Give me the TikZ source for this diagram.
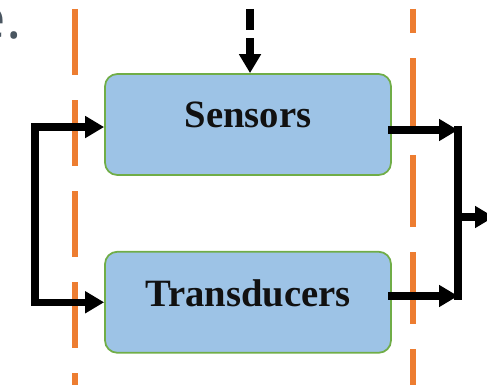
\documentclass[tikz,border=0pt]{standalone}
\usepackage{fontspec}
\setmainfont{Liberation Serif}
\newfontfamily\notefont{Open Sans}
\usepackage{xcolor}
\usetikzlibrary{arrows.meta,positioning,calc}
\definecolor{boxblue}{HTML}{9DC3E6}
\definecolor{boxgreen}{HTML}{70AD47}
\definecolor{edgeorange}{HTML}{ED7D31}
\definecolor{notegray}{HTML}{4A5661}
\definecolor{inkblack}{HTML}{111111}
\tikzset{
  blockbox/.style={
    draw=boxgreen,
    fill=boxblue,
    line width=1pt,
    rounded corners=7pt,
    align=center,
    minimum width=5.72cm,
    minimum height=2.02cm,
    text depth=0.38cm,
    text=inkblack,
    font=\fontsize{22}{26}\selectfont\bfseries
  },
  flowarrow/.style={-{Triangle[length=3.8mm,width=4.2mm]}, line width=4.2pt, line cap=rect, draw=black},
  flowline/.style={line width=4.2pt, line cap=rect, draw=black},
  boundary/.style={draw=edgeorange, line width=3.4pt}
}

\begin{document}
\begin{tikzpicture}
\useasboundingbox (0,0) rectangle (9.74,-7.68);
% system boundaries
\draw[boundary, dash pattern=on 1.32cm off 0.5cm] (1.50,-0.18) -- (1.50,-7.9);
\draw[boundary, dash pattern=on 1.44cm off 0.5cm, dash phase=0.96cm] (8.26,-0.18) -- (8.26,-7.9);

\node[font=\notefont\fontsize{33}{36}\selectfont, text=notegray, anchor=base east, inner sep=0pt] (note) at (0.44,-0.76) {e.};

\node[blockbox] (sensors) at (4.96,-2.49) {Sensors};
\node[blockbox, below=15mm of sensors] (transducers) {Transducers};

\coordinate (ctrl) at (5.0,-0.18);
\coordinate (inbus) at (0.70,-2.54);
\coordinate (outbus) at (9.16,-2.60);
\coordinate (outlow) at (9.16,-5.92);
\coordinate (outend) at (9.88,-4.34);

\draw[flowarrow, line cap=butt, dash pattern=on 0.42cm off 0.16cm] (ctrl) -- (ctrl |- sensors.north);
\draw[flowarrow] (inbus) -- (sensors.west |- inbus);
\draw[flowarrow] (inbus) |- (transducers.west);
\draw[flowline] (outbus) -- (outlow);
\draw[flowarrow] (sensors.east |- outbus) -- (outbus);
\draw[flowarrow] (transducers.east |- outlow) -- (outlow);
\draw[flowarrow] (outbus |- outend) -- (outend);
\end{tikzpicture}
\end{document}
